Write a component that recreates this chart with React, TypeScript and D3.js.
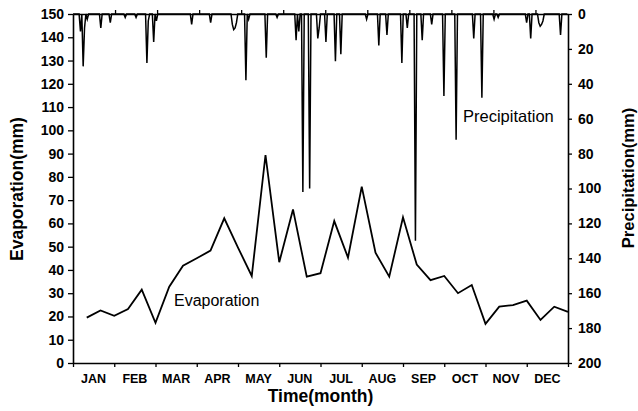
import React, { useEffect, useRef } from "react";
import * as d3 from "d3";

// evaporation per 10-day period (36 dekads), mm
const evaporation = [
  19.5, 22.6, 20.3, 23.2, 31.5, 17.3, 32.8, 41.8, 45, 48.3, 62.2, 49.6,
  37.4, 89.4, 43.3, 66, 37.1, 38.6, 61, 45.3, 75.8, 47.4, 37.1, 62.6,
  42.3, 35.6, 37.4, 30, 33.5, 16.8, 24.2, 24.9, 26.8, 18.5, 24.2, 22
];

// daily precipitation, only the rainy days (day of year, mm)
const rainDays = [
  6, 8, 9, 11, 21, 28, 39, 47, 55, 56, 60, 62, 88, 102, 118, 119, 120, 121,
  128, 130, 143, 151, 165, 167, 170, 175, 181, 182, 187, 194, 198, 217, 226,
  232, 243, 247, 253, 258, 265, 274, 283, 296, 302, 311, 314, 335, 338, 344,
  345, 346, 347, 360
];
const rainValues = [
  10, 30, 8, 3, 8, 5, 2, 2, 28, 4, 16, 4, 6, 5, 6, 9, 8, 5,
  38, 3, 25, 2, 15, 10, 102, 100, 14, 8, 16, 27, 23, 3, 18,
  12, 28, 8, 130, 15, 6, 47, 72, 14, 48, 3, 2, 5, 14, 5,
  7, 6, 4, 12
];

const months = ["JAN", "FEB", "MAR", "APR", "MAY", "JUN", "JUL", "AUG", "SEP", "OCT", "NOV", "DEC"];
const evapTicks = d3.range(0, 151, 10);
const precipTicks = d3.range(0, 201, 20);

const FONT = "'Liberation Sans', Arial, sans-serif";

const App = () => {
  const svgRef = useRef<SVGSVGElement>(null);

  useEffect(() => {
    const W = 638;
    const H = 411;
    // plot box
    const left = 73, right = 568, top = 14, bottom = 363;

    const svg = d3.select(svgRef.current).attr("width", W).attr("height", H);
    svg.selectAll("*").remove();

    // ---- scales
    const xDekad = d3.scaleLinear().domain([0, 36]).range([left, right]);
    const xDay = d3.scaleLinear().domain([0, 365]).range([left, right]);
    const xMonth = d3.scaleBand().domain(months).range([left, right]);
    const yEvap = d3.scaleLinear().domain([0, 150]).range([bottom, top]);
    const yPrec = d3.scaleLinear().domain([0, 200]).range([top, bottom]);

    // daily series built from the rainy days
    const daily = d3.range(0, 366).map(d => {
      const i = rainDays.indexOf(d);
      return { day: d, v: i >= 0 ? rainValues[i] : 0 };
    });

    // ---- precipitation (hangs from the top)
    const precLine = d3
      .line<{ day: number; v: number }>()
      .x(d => xDay(d.day - 0.5 < 0 ? 0 : d.day - 0.5))
      .y(d => yPrec(d.v));
    svg
      .append("path")
      .datum(daily)
      .attr("d", precLine)
      .attr("fill", "none")
      .attr("stroke", "#000")
      .attr("stroke-width", 1.5)
      .attr("stroke-linejoin", "miter");

    // ---- evaporation line
    const evapLine = d3
      .line<number>()
      .x((_, i) => xDekad(i + 1))
      .y(d => yEvap(d));
    svg
      .append("path")
      .datum(evaporation)
      .attr("d", evapLine)
      .attr("fill", "none")
      .attr("stroke", "#000")
      .attr("stroke-width", 1.8);

    // ---- axes
    const styleAxis = (g: any, size: number) => {
      g.select(".domain").attr("stroke", "#000").attr("stroke-width", 1.6);
      g.selectAll(".tick line").attr("stroke", "#000").attr("stroke-width", 1.3);
      g.selectAll(".tick text")
        .attr("fill", "#000")
        .attr("font-family", FONT)
        .attr("font-weight", "bold")
        .attr("font-size", size);
    };

    svg
      .append("g")
      .attr("transform", `translate(${left},0)`)
      .call(d3.axisLeft(yEvap).tickValues(evapTicks).tickSize(5).tickSizeOuter(0).tickPadding(4))
      .call(g => styleAxis(g, 14));

    svg
      .append("g")
      .attr("transform", `translate(${right},0)`)
      .call(d3.axisRight(yPrec).tickValues(precipTicks).tickSize(4).tickSizeOuter(0).tickPadding(6))
      .call(g => styleAxis(g, 14));

    svg
      .append("g")
      .attr("transform", `translate(0,${bottom})`)
      .call(
        d3
          .axisBottom(xDekad)
          .tickValues(d3.range(0, 37, 3))
          .tickFormat(() => "")
          .tickSize(4)
          .tickSizeOuter(0)
      )
      .call(g => styleAxis(g, 12));

    svg
      .append("g")
      .attr("transform", `translate(0,${top})`)
      .call(
        d3
          .axisTop(xDay)
          .tickValues(d3.range(31, 365, 31))
          .tickFormat(() => "")
          .tickSize(4)
          .tickSizeOuter(0)
      )
      .call(g => styleAxis(g, 12));

    // month labels
    svg
      .append("g")
      .selectAll("text")
      .data(months)
      .join("text")
      .attr("x", d => (xMonth(d) as number) + xMonth.bandwidth() / 2)
      .attr("y", 383)
      .attr("text-anchor", "middle")
      .attr("font-family", FONT)
      .attr("font-weight", "bold")
      .attr("font-size", 12.5)
      .text(d => d);

    // axis titles
    svg
      .append("text")
      .attr("x", (left + right) / 2)
      .attr("y", 402)
      .attr("text-anchor", "middle")
      .attr("font-family", FONT)
      .attr("font-weight", "bold")
      .attr("font-size", 17.5)
      .text("Time(month)");

    svg
      .append("text")
      .attr("transform", `translate(23,189) rotate(-90)`)
      .attr("text-anchor", "middle")
      .attr("font-family", FONT)
      .attr("font-weight", "bold")
      .attr("font-size", 17.5)
      .text("Evaporation(mm)");

    svg
      .append("text")
      .attr("transform", `translate(634,178) rotate(-90)`)
      .attr("text-anchor", "middle")
      .attr("font-family", FONT)
      .attr("font-weight", "bold")
      .attr("font-size", 16.5)
      .text("Precipitation(mm)");

    // series labels
    svg
      .append("text")
      .attr("x", 174)
      .attr("y", 306)
      .attr("font-family", FONT)
      .attr("font-size", 16)
      .text("Evaporation");

    svg
      .append("text")
      .attr("x", 463)
      .attr("y", 122)
      .attr("font-family", FONT)
      .attr("font-size", 16.5)
      .text("Precipitation");
  }, []);

  return (
    <svg ref={svgRef} style={{ position: "absolute", left: 0, top: 0, background: "#fff" }} />
  );
};

export default App;
